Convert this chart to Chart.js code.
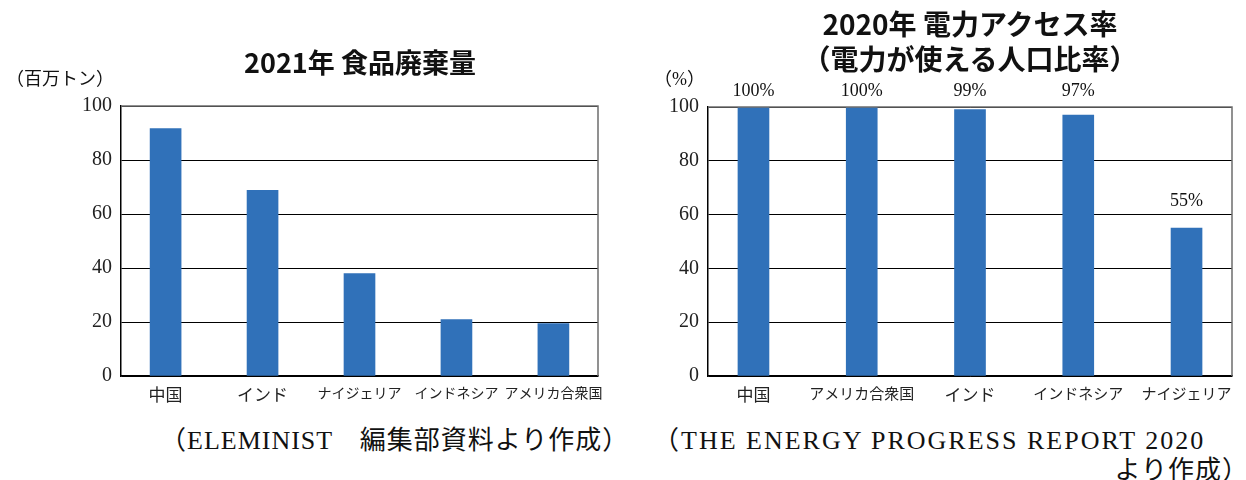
<!DOCTYPE html>
<html>
<head>
<meta charset="utf-8">
<script src="https://cdn.jsdelivr.net/npm/chart.js@4"></script>
<style>
    body { margin: 0; background: #fff; }
    #page { position: relative; width: 1246px; height: 480px; overflow: hidden; }
    .box { position: absolute; top: 0; height: 410px; }
    .txt { position: absolute; white-space: nowrap; color: #111; }
    .title { font-family: "Noto Sans CJK JP", sans-serif; font-weight: bold; font-size: 27px; text-align: center; line-height: 35px; }
    .serif { font-family: "Liberation Serif", "Noto Sans CJK JP", serif; }
</style>
</head>
<body>
<div id="page">
    <div class="box" style="left:0; width:620px;"><canvas id="foodWaste"></canvas></div>
    <div class="box" style="left:640px; width:606px;"><canvas id="powerAccess"></canvas></div>

    <div class="txt title" style="left:160px; width:400px; top:44px;">2021年 食品廃棄量</div>
    <div class="txt title" style="left:770px; width:400px; top:6px; font-size:28px;">2020年 電力アクセス率<br>（電力が使える人口比率）</div>

    <div class="txt serif" style="left:6px; top:64px; font-size:18px;">（百万トン）</div>
    <div class="txt serif" style="left:654px; top:64px; font-size:18px;">（%）</div>

    <div class="txt serif" style="left:160px; top:419px; font-size:26px; letter-spacing:1px;">（ELEMINIST　編集部資料より作成）</div>
    <div class="txt serif" style="left:653px; top:419px; font-size:26px; letter-spacing:2px;">（THE ENERGY PROGRESS REPORT 2020</div>
    <div class="txt serif" style="right:-3px; top:449px; font-size:26px; letter-spacing:1px;">より作成）</div>
</div>
<script>
// left chart: food waste 2021 (million tons)
var wasteCountries = ['中国', 'インド', 'ナイジェリア', 'インドネシア', 'アメリカ合衆国'];
var wasteValues = [91.6, 68.8, 37.9, 20.9, 19.4];

// right chart: electricity access 2020 (%)
var powerCountries = ['中国', 'アメリカ合衆国', 'インド', 'インドネシア', 'ナイジェリア'];
var powerValues = [100, 100, 99, 97, 55];

var yTicks = [0, 20, 40, 60, 80, 100];

var serifFont = "'Liberation Serif', 'Noto Sans CJK JP', serif";
var barColor = '#3071B9';

// gray frame on top and right side of the plot
var frameLines = {
    id: 'frameLines',
    afterDatasetsDraw: function (chart) {
        var a = chart.chartArea;
        var ctx = chart.ctx;
        ctx.save();
        ctx.strokeStyle = '#6e6e6e';
        ctx.lineWidth = 1.5;
        ctx.beginPath();
        ctx.moveTo(a.left, a.top);
        ctx.lineTo(a.right, a.top);
        ctx.lineTo(a.right, a.bottom);
        ctx.stroke();
        ctx.restore();
    }
};

// percent labels above the bars (kept inside the top margin)
var percentLabels = {
    id: 'percentLabels',
    afterDatasetsDraw: function (chart) {
        var ctx = chart.ctx;
        var meta = chart.getDatasetMeta(0);
        ctx.save();
        ctx.font = '18px ' + serifFont;
        ctx.fillStyle = '#111';
        ctx.textAlign = 'center';
        ctx.textBaseline = 'bottom';
        meta.data.forEach(function (bar, i) {
            var y = Math.max(bar.y - 18, chart.chartArea.top - 7);
            ctx.fillText(powerValues[i] + '%', bar.x, y);
        });
        ctx.restore();
    }
};

function makeChart(canvasId, names, values, opts) {
    var points = values.map(function (v, i) { return {x: i, y: v}; });
    return new Chart(document.getElementById(canvasId), {
        type: 'bar',
        data: {
            datasets: [{
                data: points,
                backgroundColor: barColor,
                borderWidth: 0,
                barThickness: 31
            }]
        },
        options: {
            responsive: true,
            maintainAspectRatio: false,
            animation: false,
            layout: {padding: {top: opts.top, right: opts.right, left: 0, bottom: 0}},
            plugins: {legend: {display: false}, tooltip: {enabled: false}},
            scales: {
                x: {
                    type: 'linear',
                    offset: false,
                    min: opts.xMin,
                    max: opts.xMax,
                    grid: {display: false},
                    border: {display: true, color: '#000', width: 1.5},
                    afterBuildTicks: function (scale) {
                        scale.ticks = names.map(function (n, i) { return {value: i}; });
                    },
                    afterFit: function (scale) { scale.height = 34; },
                    ticks: {
                        padding: 2,
                        autoSkip: false,
                        maxRotation: 0,
                        color: '#222',
                        // short names are printed larger, as in the original
                        font: function (c) {
                            var n = names[c.index] || '';
                            return {family: serifFont, size: n.length <= 3 ? 17 : opts.longSize};
                        },
                        callback: function (value) { return names[value]; }
                    }
                },
                y: {
                    min: 0,
                    max: 100,
                    afterBuildTicks: function (scale) {
                        scale.ticks = yTicks.map(function (v) { return {value: v}; });
                    },
                    afterFit: function (scale) { scale.width = opts.yWidth; },
                    grid: {color: '#000', lineWidth: 1, drawTicks: false},
                    border: {display: true, color: '#000', width: 1.5},
                    ticks: {
                        padding: 9,
                        color: '#222',
                        font: {family: serifFont, size: 20}
                    }
                }
            }
        },
        plugins: opts.plugins
    });
}

makeChart('foodWaste', wasteCountries, wasteValues, {
    top: 106, right: 22, yWidth: 121, xMin: -0.46, xMax: 4.46, longSize: 14,
    plugins: [frameLines]
});

makeChart('powerAccess', powerCountries, powerValues, {
    top: 107, right: 14, yWidth: 68, xMin: -0.42, xMax: 4.42, longSize: 15,
    plugins: [frameLines, percentLabels]
});
</script>
</body>
</html>
